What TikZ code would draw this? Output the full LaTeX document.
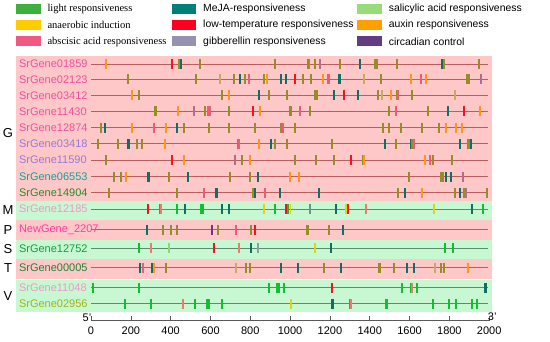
\documentclass[tikz,border=0pt]{standalone}
\usepackage{fontspec}
\setmainfont{Liberation Sans}
\newfontfamily\serifleg{Liberation Serif}

% motif colours
\definecolor{olv}{RGB}{150,140,40}
\definecolor{tea}{RGB}{16,110,100}
\definecolor{org}{RGB}{255,150,20}
\definecolor{rd}{RGB}{240,20,30}
\definecolor{pk}{RGB}{240,90,120}
\definecolor{mv}{RGB}{180,110,140}
\definecolor{tn}{RGB}{200,170,100}
\definecolor{grn}{RGB}{20,190,50}
\definecolor{sal}{RGB}{240,120,110}
\definecolor{yel}{RGB}{225,210,20}
\definecolor{gtl}{RGB}{100,150,140}
\definecolor{prp}{RGB}{120,50,130}
\definecolor{lgr}{RGB}{130,220,110}
\definecolor{gry}{RGB}{140,160,170}
% legend colours
\definecolor{legA}{RGB}{60,175,60}
\definecolor{legB}{RGB}{255,204,0}
\definecolor{legC}{RGB}{240,90,130}
\definecolor{legD}{RGB}{0,128,118}
\definecolor{legE}{RGB}{255,0,30}
\definecolor{legF}{RGB}{150,145,175}
\definecolor{legG}{RGB}{150,220,120}
\definecolor{legH}{RGB}{255,160,0}
\definecolor{legI}{RGB}{100,60,130}
% backgrounds and lines
\definecolor{bgpink}{RGB}{255,200,200}
\definecolor{bggreen}{RGB}{200,248,210}
\definecolor{linepink}{RGB}{185,95,95}
\definecolor{linegreen}{RGB}{90,140,110}
% label colours
\definecolor{labpink}{RGB}{240,80,160}
\definecolor{lablav}{RGB}{150,120,220}
\definecolor{labteal}{RGB}{20,160,150}
\definecolor{labgreen}{RGB}{40,140,40}
\definecolor{lablight}{RGB}{240,150,200}
\definecolor{labhot}{RGB}{255,60,160}
\definecolor{labgrn}{RGB}{20,160,60}
\definecolor{labdgrn}{RGB}{30,130,50}
\definecolor{labolive}{RGB}{160,180,20}

\tikzset{
  gene/.style={anchor=west, font=\fontsize{11}{13}\selectfont},
  group/.style={font=\fontsize{13}{15}\selectfont},
  legsans/.style={anchor=west, font=\fontsize{10.4}{12}\selectfont},
  legserif/.style={anchor=west, font=\serifleg\fontsize{10.5}{12}\selectfont},
  ticklab/.style={font=\fontsize{11}{13}\selectfont}
}

% one row of motif boxes: position/colour/width
\newcommand{\motifs}[2]{%
  \foreach \p/\c/\w in {#2}
    \fill[\c] ({\p-\w/2-1},{#1-5}) rectangle ({\p+\w/2+1},{#1+5});}

\begin{document}
\begin{tikzpicture}[x=1pt, y=-1pt]
    \useasboundingbox (0,0) rectangle (550,342);

    % Draw the legend
    \foreach \c/\x/\y/\t/\s in {
        legA/16/9/light responsiveness/legserif,
        legB/16/25.3/anaerobic induction/legserif,
        legC/16/41.5/abscisic acid responsiveness/legserif,
        legD/171.7/9/MeJA-responsiveness/legsans,
        legE/171.7/25.3/low-temperature responsiveness/legsans,
        legF/171.7/41.5/gibberellin responsiveness/legsans,
        legG/357.3/9/salicylic acid responsiveness/legsans,
        legH/357.3/25.3/auxin responsiveness/legsans,
        legI/357.3/41.5/circadian control/legsans} {
        \fill[\c] (\x,\y-5) rectangle (\x+24.5,\y+5);
        \node (leg\c) at (\x+28,\y) [\s] {\t};
    }

    % Draw the backgrounds
    \fill[bgpink]  (16,56)  rectangle (492,201);
    \fill[bggreen] (16,201) rectangle (492,220);
    \fill[bgpink]  (16,220) rectangle (492,240);
    \fill[bggreen] (16,240) rectangle (492,259);
    \fill[bgpink]  (16,259) rectangle (492,279);
    \fill[bggreen] (16,280.5) rectangle (492,312);

    % Place the group letters
    \node (grpG) at (8,133)   [group] {G};
    \node (grpM) at (8,210)   [group] {M};
    \node (grpP) at (8,230.5) [group] {P};
    \node (grpS) at (8,249.5) [group] {S};
    \node (grpT) at (8,268.5) [group] {T};
    \node (grpV) at (8,296.5) [group] {V};

    % Place the gene names
    \node (lab01859) at (15.5,64)    [gene, text=labpink] {SrGene01859};
    \node (lab02123) at (15.5,79.3)  [gene, text=labpink] {SrGene02123};
    \node (lab03412) at (15.5,95.3)  [gene, text=labpink] {SrGene03412};
    \node (lab11430) at (15.5,111.3) [gene, text=labpink] {SrGene11430};
    \node (lab12874) at (15.5,127.7) [gene, text=labpink] {SrGene12874};
    \node (lab03418) at (15.5,143.7) [gene, text=lablav] {SrGene03418};
    \node (lab11590) at (15.5,160)   [gene, text=lablav] {SrGene11590};
    \node (lab06553) at (15.5,176.7) [gene, text=labteal] {SrGene06553};
    \node (lab14904) at (15.5,192.7) [gene, text=labgreen] {SrGene14904};
    \node (lab12185) at (15.5,209)   [gene, text=lablight] {SrGene12185};
    \node (lab2207)  at (15.5,229.7) [gene, text=labhot] {NewGene\_2207};
    \node (lab12752) at (15.5,248.3) [gene, text=labgrn] {SrGene12752};
    \node (lab00005) at (15.5,267.7) [gene, text=labdgrn] {SrGene00005};
    \node (lab11048) at (15.5,287.7) [gene, text=lablight] {SrGene11048};
    \node (lab02956) at (15.5,303.7) [gene, text=labolive] {SrGene02956};

    % Draw the gene lines and motifs (x in bp)
    \begin{scope}[shift={(91,0)}, x=0.1991pt]
    \foreach \y in {64,79.3,95.3,111.3,127.7,143.7,160,176.7,192.7,229.7,267.7}
        \draw[linepink, line width=0.9pt] (0,\y) -- (1995,\y);
    \foreach \y in {209,248.3,287.7,303.7}
        \draw[linegreen, line width=0.9pt] (0,\y) -- (1995,\y);

    \motifs{64}{75/org/8, 408/rd/8, 442/olv/8, 450/tea/8, 547/olv/8, 923/olv/8, 1090/olv/8, 1097/pk/6, 1125/olv/8, 1150/mv/8, 1251/olv/8, 1353/tea/8, 1431/olv/14, 1535/olv/8, 1761/tea/8, 1775/olv/8, 1949/olv/8}
    \motifs{79.3}{184/olv/8, 527/olv/8, 648/tn/8, 718/olv/8, 748/tea/8, 772/olv/8, 795/pk/8, 870/olv/8, 882/org/8, 954/tea/8, 978/tea/8, 1025/rd/8, 1065/olv/8, 1103/olv/8, 1164/org/8, 1193/pk/14, 1249/tea/14, 1373/tn/8, 1457/olv/8, 1606/org/8, 1659/pk/8, 1683/org/8, 1895/olv/16, 1957/mv/8}
    \motifs{95.3}{204/org/8, 243/olv/8, 659/olv/8, 695/org/8, 842/tea/8, 893/olv/8, 986/olv/8, 1130/olv/16, 1219/tea/8, 1272/rd/8, 1341/tea/8, 1441/olv/8, 1463/tn/8, 1507/org/8, 1535/olv/8, 1542/pk/8, 1614/olv/8, 1828/tn/8}
    \motifs{111.3}{323/olv/16, 438/org/8, 516/mv/8, 573/olv/8, 589/pk/8, 598/pk/8, 693/olv/8, 812/rd/8, 849/org/10, 1002/olv/14, 1050/pk/8, 1101/olv/8, 1495/olv/8, 1530/pk/8, 1691/olv/8, 1795/tea/8, 1873/rd/8, 1952/org/8}
    \motifs{127.7}{50/olv/8, 69/tea/10, 207/org/8, 316/pk/8, 378/org/8, 433/tea/10, 469/olv/8, 593/olv/8, 693/olv/8, 822/olv/8, 954/olv/8, 963/pk/8, 1026/olv/8, 1465/olv/8, 1495/olv/8, 1556/olv/8, 1664/olv/8, 1746/olv/8, 1783/org/8, 1832/org/8, 1863/org/8}
    \motifs{143.7}{37/olv/8, 136/olv/8, 189/tea/10, 230/olv/8, 258/olv/8, 373/org/8, 738/olv/8, 745/pk/8, 845/org/8, 903/tea/10, 924/olv/8, 982/olv/8, 1209/olv/8, 1477/tea/10, 1532/olv/8, 1606/tea/8, 1614/olv/8, 1622/pk/8, 1853/tea/10, 1895/olv/12, 1909/tea/8}
    \motifs{160}{77/olv/8, 405/rd/8, 469/org/8, 723/mv/8, 760/olv/8, 800/org/8, 1025/olv/8, 1132/olv/8, 1222/olv/8, 1307/rd/10, 1365/olv/8, 1373/org/8, 1676/org/8, 1703/pk/8, 1716/olv/8, 1813/olv/8}
    \motifs{176.7}{117/olv/8, 151/olv/8, 176/org/8, 288/tea/10, 390/olv/8, 487/tea/10, 698/olv/8, 799/olv/8, 840/tea/10, 999/org/8, 1046/org/8, 1596/olv/10, 1758/olv/8, 1768/olv/8, 1783/tea/8, 1810/tea/8, 1867/mv/8}
    \motifs{192.7}{92/olv/8, 432/olv/8, 569/pk/10, 631/tea/10, 814/olv/8, 822/tea/8, 875/pk/10, 949/tea/10, 1145/tea/10, 1542/olv/8, 1577/tea/8, 1664/org/8, 1828/olv/8, 1854/tea/8, 1873/olv/8, 1882/mv/8, 1989/olv/8}
    \motifs{209}{288/rd/8, 347/grn/8, 354/sal/8, 433/grn/8, 474/tea/8, 557/grn/16, 659/tea/8, 695/tea/8, 870/yel/8, 924/grn/10, 979/rd/8, 990/grn/10, 1002/yel/8, 1100/gtl/8, 1231/tea/8, 1282/yel/8, 1290/rd/8, 1383/sal/8, 1723/yel/8, 1915/tea/8, 1970/grn/8}
    \motifs{229.7}{283/tea/8, 363/olv/8, 402/olv/8, 430/olv/8, 609/prp/10, 639/olv/10, 728/pk/8, 802/olv/8, 824/rd/8, 1088/olv/10, 1194/olv/8, 1267/tea/8}
    \motifs{248.3}{241/grn/10, 301/sal/8, 390/lgr/8, 616/rd/8, 743/sal/8, 805/tea/10, 840/gry/8, 1124/yel/8, 1205/tea/12, 1779/grn/8, 1820/grn/8}
    \motifs{267.7}{246/tea/8, 260/pk/10, 309/tea/10, 318/org/8, 377/olv/8, 730/tn/8, 777/olv/8, 799/olv/8, 954/tea/8, 1041/tea/8, 1172/olv/8, 1256/tea/8, 1448/olv/12, 1523/olv/8, 1589/tea/8, 1622/tea/8, 1728/tn/8, 1758/olv/8, 1773/olv/8, 1895/org/8}
    \motifs{287.7}{12/grn/8, 241/grn/8, 896/grn/8, 939/grn/16, 969/grn/8, 1212/rd/8, 1564/grn/8, 1607/grn/8, 1614/sal/8, 1636/grn/8, 1982/tea/12}
    \motifs{303.7}{171/grn/10, 301/grn/8, 464/sal/8, 522/grn/8, 589/grn/18, 659/grn/8, 1004/yel/8, 1212/tea/10, 1302/grn/8, 1308/sal/8, 1485/grn/14, 1719/grn/8, 1800/grn/8, 1833/grn/8, 1912/grn/8, 1940/grn/8}

    % Draw the axis
    \draw[gray!70!black, line width=0.6pt] (0,320.7) -- (2000,320.7);
    \foreach \t in {0,200,...,2000} {
        \draw[gray!70!black, line width=0.6pt] (\t,320.7) -- (\t,316.5);
        \node (tick\t) at (\t,330.5) [ticklab] {\t};
    }
    \node (five) at (-20,317.5) [ticklab] {5'};
    \node (three) at (2015,317) [ticklab] {3'};
    \end{scope}
\end{tikzpicture}
\end{document}
